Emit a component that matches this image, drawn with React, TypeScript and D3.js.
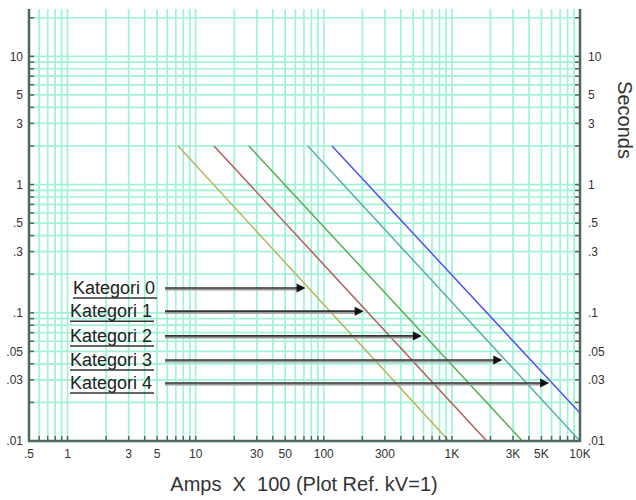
import React from 'react';
import * as d3 from 'd3';

// curve data: [amps x100, seconds]
const curveNames = ['Kategori 0', 'Kategori 1', 'Kategori 2', 'Kategori 3', 'Kategori 4'];
const curveColors = ['#b9b35f', '#b45c5c', '#5aac5a', '#5aacac', '#5050f0'];
const curve0 = [[7.3, 2], [950, 0.01]];
const curve1 = [[13.9, 2], [1870, 0.01]];
const curve2 = [[26, 2], [3550, 0.01]];
const curve3 = [[75, 2], [10000, 0.01]];
const curve4 = [[116, 2], [10000, 0.0165]];
const curves = [curve0, curve1, curve2, curve3, curve4];

// seconds level at which each label arrow points at its curve
const arrowLevels = [0.156, 0.103, 0.066, 0.0428, 0.0283];

const xTickValues = [0.5, 1, 3, 5, 10, 30, 50, 100, 300, 1000, 3000, 5000, 10000];
const xTickLabels = ['.5', '1', '3', '5', '10', '30', '50', '100', '300', '1K', '3K', '5K', '10K'];
const yTickValues = [10, 5, 3, 1, 0.5, 0.3, 0.1, 0.05, 0.03, 0.01];
const yTickLabels = ['10', '5', '3', '1', '.5', '.3', '.1', '.05', '.03', '.01'];

const W = 636;
const H = 500;
const left = 29, right = 580, top = 9, bottom = 441;

const gridColor = '#a0f3d6';
const axisColor = '#4c6a5c';
const textColor = '#333';
const font = 'Arial, "Liberation Sans", sans-serif';

const decades = (a: number, b: number) => {
  const out: number[] = [];
  for (let p = a; p <= b; p++) {
    for (let m = 1; m <= 9; m++) out.push(+(m * Math.pow(10, p)).toPrecision(3));
  }
  return out;
};

export default function App() {
  const x = d3.scaleLog().domain([0.5, 10000]).range([left, right]);
  const y = d3.scaleLog().domain([0.01, 23.4]).range([bottom, top]);

  const xGrid = decades(-1, 4).filter(v => v >= 0.5 && v <= 10000);
  const yGrid = decades(-2, 1).filter(v => v >= 0.01 && v <= 20);

  const line = d3.line<number[]>().x(d => x(d[0])).y(d => y(d[1]));

  // where a horizontal arrow at level s meets the curve (log-linear)
  const hitX = (c: number[][], s: number) => {
    const [a, b] = c;
    const t = (Math.log(s) - Math.log(a[1])) / (Math.log(b[1]) - Math.log(a[1]));
    return x(Math.exp(Math.log(a[0]) + t * (Math.log(b[0]) - Math.log(a[0]))));
  };

  return (
    <svg width={W} height={H} style={{ position: 'absolute', left: 0, top: 0, background: '#fff' }}
      fontFamily={font}>
      <defs>
        <clipPath id="plot">
          <rect x={left} y={top} width={right - left} height={bottom - top} />
        </clipPath>
      </defs>

      {/* grid */}
      <g stroke={gridColor} strokeWidth={1.7}>
        {xGrid.map(v => (
          <line key={'gx' + v} x1={x(v)} x2={x(v)} y1={top} y2={bottom} />
        ))}
        {yGrid.map(v => (
          <line key={'gy' + v} x1={left} x2={right} y1={y(v)} y2={y(v)} />
        ))}
      </g>

      {/* curves */}
      <g clipPath="url(#plot)" fill="none" strokeWidth={1.5}>
        {curves.map((c, i) => (
          <path key={i} d={line(c) || ''} stroke={curveColors[i]} />
        ))}
      </g>

      {/* axes */}
      <g stroke={axisColor}>
        <line x1={left} x2={left} y1={top} y2={bottom + 1} strokeWidth={2.5} />
        <line x1={right} x2={right} y1={top} y2={bottom + 1} strokeWidth={2.5} />
        <line x1={left - 1} x2={right + 1} y1={bottom} y2={bottom} strokeWidth={2.5} />
        {xGrid.map(v => (
          <line key={'tx' + v} x1={x(v)} x2={x(v)} y1={bottom} y2={bottom - 5} strokeWidth={1.5} />
        ))}
        {yGrid.map(v => (
          <g key={'ty' + v}>
            <line x1={left} x2={left + 5} y1={y(v)} y2={y(v)} strokeWidth={1.5} />
            <line x1={right} x2={right - 5} y1={y(v)} y2={y(v)} strokeWidth={1.5} />
          </g>
        ))}
      </g>

      {/* tick labels */}
      <g fontSize={12} fill={textColor}>
        {xTickValues.map((v, i) => (
          <text key={'lx' + v} x={x(v)} y={458} textAnchor="middle">{xTickLabels[i]}</text>
        ))}
        {yTickValues.map((v, i) => (
          <g key={'ly' + v}>
            <text x={23} y={y(v)} dy="0.35em" textAnchor="end">{yTickLabels[i]}</text>
            <text x={588} y={y(v)} dy="0.35em" textAnchor="start">{yTickLabels[i]}</text>
          </g>
        ))}
      </g>

      {/* axis titles */}
      <text x={304} y={491} textAnchor="middle" fontSize={20} fill={textColor}
        style={{ whiteSpace: 'pre' }}>
        {'Amps  X  100 (Plot Ref. kV=1)'}
      </text>
      <text transform="translate(618,120) rotate(90)" textAnchor="middle" fontSize={20} fill={textColor}>
        Seconds
      </text>

      {/* category labels with arrows */}
      {curveNames.map((name, i) => {
        const yy = y(arrowLevels[i]);
        const tip = hitX(curves[i], arrowLevels[i]) - 3;
        const tx = i === 0 ? 73 : 70;
        return (
          <g key={name}>
            <text x={tx} y={yy + 6} fontSize={18} fill="#222">{name}</text>
            <line x1={tx} x2={tx + 84} y1={yy + 10} y2={yy + 10} stroke="#333" strokeWidth={1.5} />
            <line x1={165} x2={tip - 8} y1={yy + 1.5} y2={yy + 1.5} stroke="#999" strokeWidth={2} />
            <line x1={165} x2={tip - 8} y1={yy} y2={yy} stroke="#333" strokeWidth={1.6} />
            <path d={`M${tip},${yy} L${tip - 9},${yy - 4.5} L${tip - 9},${yy + 4.5} Z`} fill="#111" />
          </g>
        );
      })}
    </svg>
  );
}
